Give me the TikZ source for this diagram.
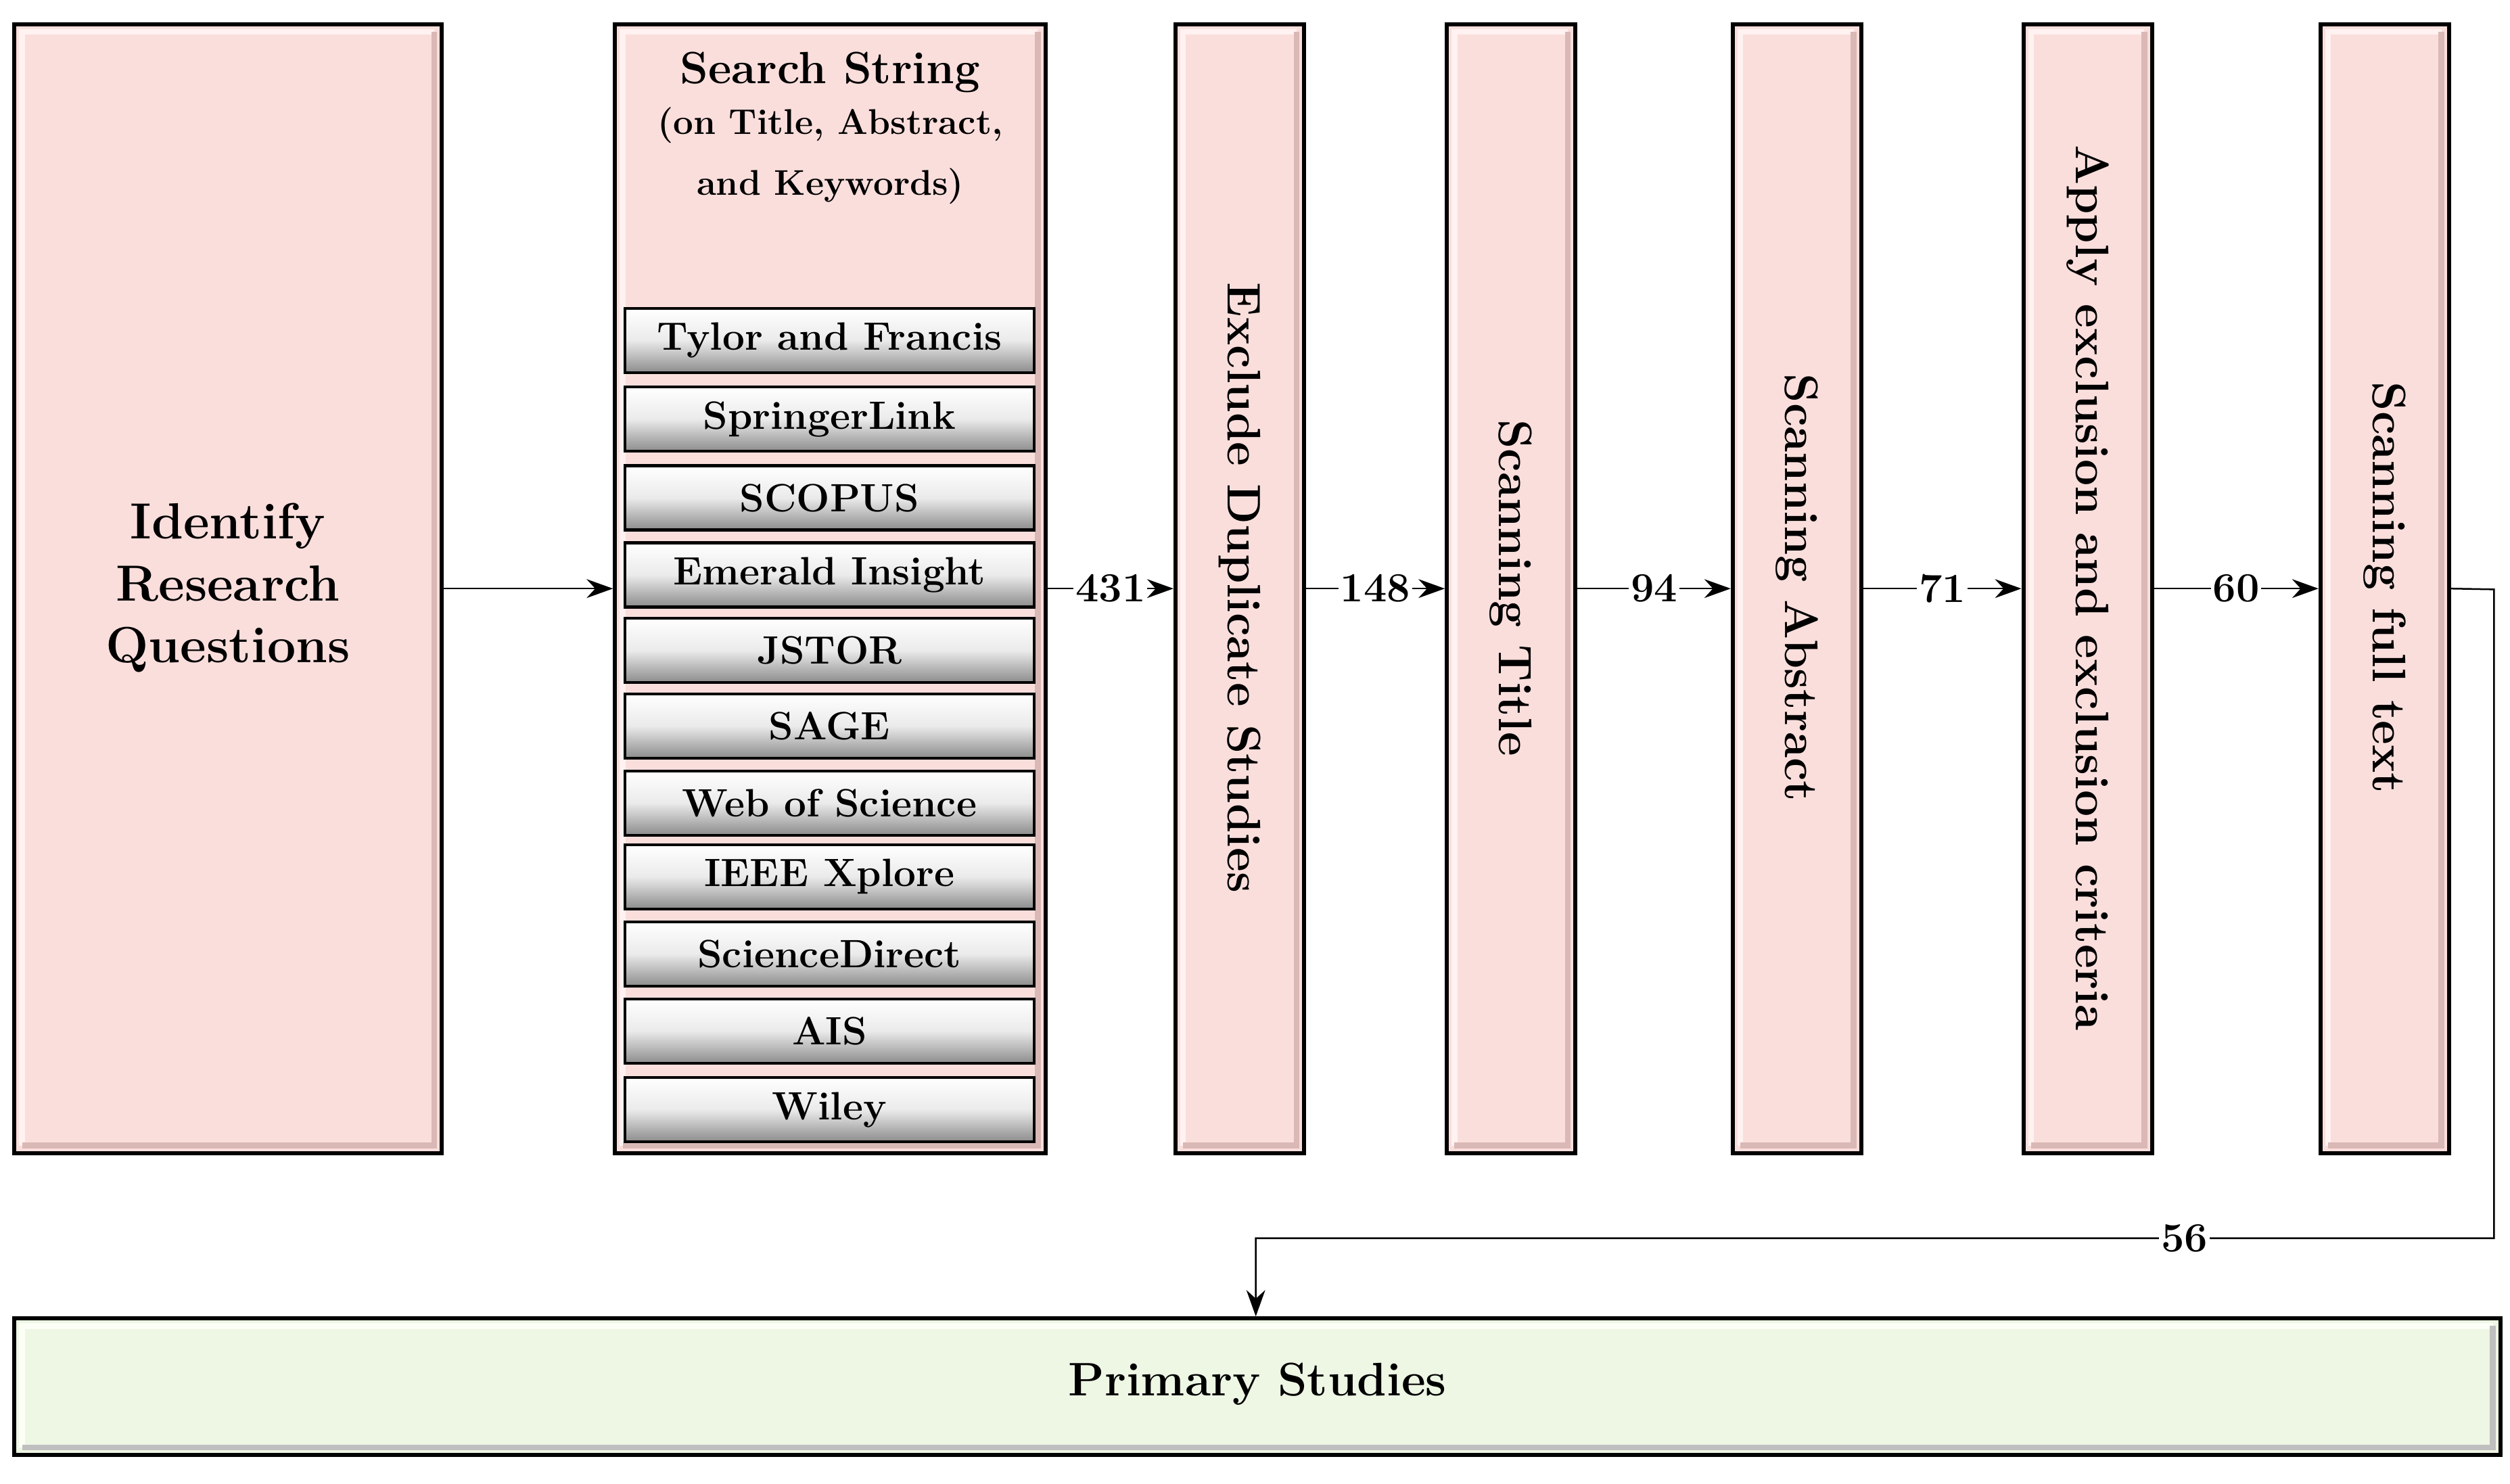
\documentclass[tikz,border=0pt]{standalone}
\usepackage{tikz}
\usetikzlibrary{arrows.meta,calc}
\definecolor{pk}{HTML}{F9DEDC}
\definecolor{pkl}{HTML}{FFF2F1}
\definecolor{pkd}{HTML}{D9B8B5}
\definecolor{gr}{HTML}{EEF6E4}
\definecolor{grl}{HTML}{FBFFF6}
\begin{document}
\begin{tikzpicture}[x=0.3mm,y=-0.3mm,
  box/.style={draw=black,line width=2.2pt,fill=pk,inner sep=0pt},
  W/.style={minimum width={#1*0.3mm}},
  H/.style={minimum height={#1*0.3mm}},
  db/.style={draw=black,line width=1.5pt,top color=white,bottom color=black!45,middle color=black!8,W=255,H=40,inner sep=0pt,font=\bfseries\fontsize{21}{24}\selectfont},
  arr/.style={-{Stealth[length=14pt,width=10pt]},line width=0.9pt},
  lab/.style={fill=white,inner sep=1pt,font=\bfseries\fontsize{22}{24}\selectfont},
  rt/.style={rotate=-90,font=\bfseries\fontsize{25}{36}\selectfont,align=center}]
\useasboundingbox (0,0) rectangle (1563,924);
\node[box,W=266,H=703] (rq) at (142,366.5) {};
\node[font=\bfseries\fontsize{27}{33}\selectfont,align=center] at (142,366) {Identify\\Research\\Questions};
\node[box,W=268,H=703] (ss) at (517,366.5) {};
\node[box,W=80,H=703] (ex) at (772,366.5) {};
\node[box,W=80,H=703] (st) at (941,366.5) {};
\node[box,W=80,H=703] (sa) at (1119,366.5) {};
\node[box,W=80,H=703] (ap) at (1300,366.5) {};
\node[box,W=80,H=703] (sf) at (1485,366.5) {};
\node[box,fill=gr,W=1548,H=85] (ps) at (783,863.5) {};
\foreach \n in {rq,ss,ex,st,sa,ap,sf}{
  \draw[pkl,line width=3pt] ($(\n.south west)+(6,-6)$) -- ($(\n.north west)+(6,6)$) -- ($(\n.north east)+(-6,6)$);
  \draw[pkd,line width=3pt] ($(\n.north east)+(-6,6)$) -- ($(\n.south east)+(-6,-6)$) -- ($(\n.south west)+(6,-6)$);
}
\draw[grl,line width=3pt] ($(ps.south west)+(6,-6)$) -- ($(ps.north west)+(6,6)$) -- ($(ps.north east)+(-6,6)$);
\draw[black!25,line width=3pt] ($(ps.north east)+(-6,6)$) -- ($(ps.south east)+(-6,-6)$) -- ($(ps.south west)+(6,-6)$);
\node[font=\bfseries\fontsize{25}{30}\selectfont] at (783,862) {Primary Studies};
\node[font=\bfseries\fontsize{24}{28}\selectfont] at (517,45) {Search String};
\node[font=\bfseries\fontsize{19}{32}\selectfont,align=center] at (517,97) {(on Title, Abstract,\\and Keywords)};
\node[rt] at (772,366) {Exclude Duplicate Studies};
\node[rt] at (941,366) {Scanning Title};
\node[rt] at (1119,366) {Scanning Abstract};
\node[rt] at (1300,366) {Apply exclusion and exclusion criteria};
\node[rt] at (1485,366) {Scanning full text};
\node[db] (d1) at (516.5,212) {Tylor and Francis};
\node[db] (d2) at (516.5,261) {SpringerLink};
\node[db] (d3) at (516.5,310) {SCOPUS};
\node[db] (d4) at (516.5,358) {Emerald Insight};
\node[db] (d5) at (516.5,405) {JSTOR};
\node[db] (d6) at (516.5,452) {SAGE};
\node[db] (d7) at (516.5,500) {Web of Science};
\node[db] (d8) at (516.5,546) {IEEE Xplore};
\node[db] (d9) at (516.5,594) {ScienceDirect};
\node[db] (d10) at (516.5,642) {AIS};
\node[db] (d11) at (516.5,691) {Wiley};
\draw[arr] (rq.east) -- (ss.west);
\draw[arr] (ss.east) -- node[lab]{431} (ex.west);
\draw[arr] (ex.east) -- node[lab]{148} (st.west);
\draw[arr] (st.east) -- node[lab]{94} (sa.west);
\draw[arr] (sa.east) -- node[lab]{71} (ap.west);
\draw[arr] (ap.east) -- node[lab]{60} (sf.west);
\coordinate (c1) at (1553,367);
\coordinate (c2) at (1553,771);
\coordinate (c3) at (782,771);
\draw[arr] (sf.east) -- (c1) -- (c2) -- node[lab,pos=0.25]{56} (c3) -- (ps.north -| c3);
\end{tikzpicture}
\end{document}
